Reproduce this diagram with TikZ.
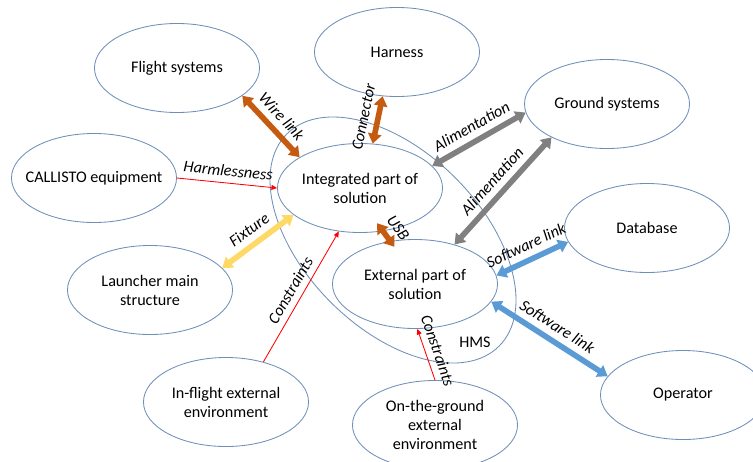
\documentclass[tikz,border=0pt]{standalone}
\usepackage{fontspec}
\setmainfont{Carlito}
\usetikzlibrary{calc,arrows.meta,shapes.geometric}
\definecolor{edge}{HTML}{6F8FB8}
\definecolor{wire}{HTML}{C55A11}
\definecolor{power}{HTML}{808080}
\definecolor{fix}{HTML}{FFD966}
\definecolor{soft}{HTML}{5B9BD5}

\begin{document}
\begin{tikzpicture}[x=0.025cm,y=-0.025cm,
    bubble/.style={ellipse,draw=edge,line width=0.6pt,minimum width=4.125cm,minimum height=2.225cm,
        inner xsep=-12pt,inner ysep=0pt,align=center,font=\fontsize{11.5}{13.5}\selectfont},
    link/.style={line width=4pt,{Triangle[width=9.5pt,length=7pt]}-{Triangle[width=9.5pt,length=7pt]}},
    redlink/.style={red,line width=0.6pt,-{Triangle[width=3.5pt,length=4pt]}},
    lbl/.style={midway,sloped,above=2.5pt,text=black,inner sep=2pt,font=\fontsize{11.5}{13}\selectfont\itshape}]
    \useasboundingbox (0,0) rectangle (753,461);

    % the HMS boundary
    \node (hms) at (393,240) [ellipse,draw=edge,line width=0.6pt,minimum width=7.5cm,minimum height=4.4cm,rotate=-45] {};
    \node (hmstext) at (475,342) [font=\fontsize{11.5}{13}\selectfont] {HMS};

    \node (flight) at (177,68) [bubble] {Flight systems};
    \node (harness) at (397,52) [bubble] {Harness};
    \node (ground) at (607,104) [bubble] {Ground systems};
    \node (callisto) at (94,178) [bubble] {CALLISTO equipment};
    \node (integ) at (360,188) [bubble] {Integrated part of\\solution};
    \node (db) at (647,228) [bubble] {Database};
    \node (launcher) at (150,290) [bubble] {Launcher main\\structure};
    \node (ext) at (415,284) [bubble] {External part of\\solution};
    \node (inflight) at (226,402) [bubble] {In-flight external\\environment};
    \node (onground) at (435,425) [bubble] {On-the-ground\\external\\environment};
    \node (oper) at (683,395) [bubble] {Operator};

    \foreach \a/\b/\c/\t in {flight.-23/integ.153/wire/Wire link,
                             harness.-108/integ.74/wire/Connector,
                             integ.17.5/ground.186/power/Alimentation,
                             ext.45.7/ground.211/power/Alimentation,
                             launcher.17/integ.202.5/fix/Fixture,
                             ext.6.4/db.190/soft/Software link,
                             ext.-13/oper.166.7/soft/Software link}
        {
            \draw [link, \c] (\a) -- node [lbl] {\t} (\b);
        }

    \draw [link, wire, shorten <=-7pt, shorten >=-5pt] (integ.-62) -- node [lbl] {USB} (ext.120);

    \draw [redlink] (callisto.0) -- node [lbl, above=0pt] {Harmlessness} (integ.180);
    \draw [redlink] (inflight.47) -- node [lbl, above=0pt] {Constraints} (integ.244);
    \draw [redlink] (onground.90) -- node [lbl, above=0pt] {Constraints} (ext.-87);

\end{tikzpicture}
\end{document}
